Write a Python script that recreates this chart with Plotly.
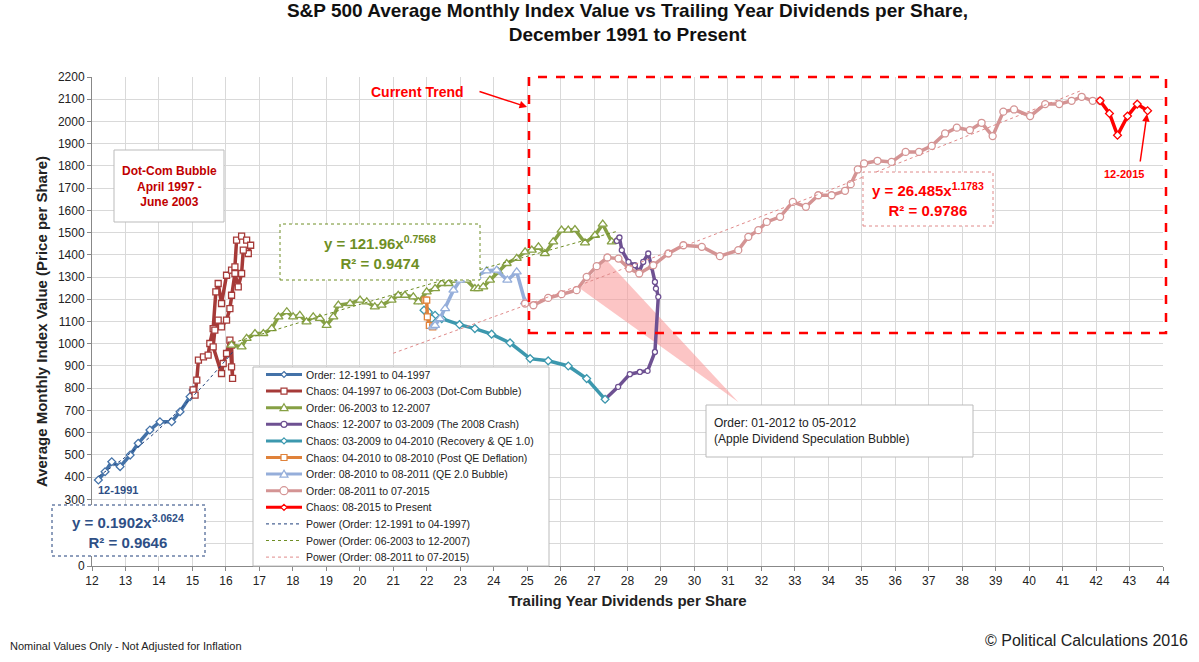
import plotly.graph_objects as go

# ---- data ----
blue_x = [12.19, 12.39, 12.59, 12.84, 13.14, 13.38, 13.73, 14.03, 14.38, 14.63, 14.93, 15.02]
blue_y = [387, 424, 469, 447, 499, 552, 612, 649, 649, 694, 762, 792]

red_x = [15.02, 15.08, 15.13, 15.18, 15.33, 15.47, 15.52, 15.62, 15.70, 15.77, 15.87, 16.02, 16.17, 16.27, 16.32, 16.47,
         16.62, 16.74, 16.67, 16.52, 16.47, 16.37, 16.27, 16.17, 16.12, 16.02, 15.87, 15.77, 15.67, 15.62, 15.87, 15.92,
         16.02, 16.12, 16.17, 16.20, 16.17]
red_y = [792, 769, 836, 926, 941, 949, 1001, 1068, 1233, 1271, 1181, 1308, 1331, 1346, 1466, 1484,
         1466, 1443, 1406, 1421, 1316, 1256, 1316, 1218, 1158, 1106, 1076, 1106, 1061, 986, 866, 911,
         956, 1016, 896, 844, 994]

green_x = [16.17, 16.47, 16.62, 16.87, 17.12, 17.37, 17.57, 17.82, 18.01, 18.21, 18.41, 18.61, 18.81, 19.01, 19.21, 19.36,
           19.71, 20.01, 20.21, 20.45, 20.65, 20.95, 21.15, 21.35, 21.6, 21.75, 22.0, 22.25, 22.45, 22.65, 22.85, 23.0,
           23.19, 23.44, 23.54, 23.69, 23.89, 24.14, 24.39, 24.69, 24.94, 25.14, 25.34, 25.53, 25.78, 26.03, 26.23, 26.43,
           26.73, 27.03, 27.26, 27.53, 27.68]
green_y = [994, 986, 1024, 1046, 1046, 1068, 1121, 1144, 1121, 1128, 1098, 1121, 1114, 1083, 1121, 1174,
           1181, 1196, 1188, 1166, 1174, 1196, 1218, 1218, 1211, 1188, 1233, 1248, 1271, 1271, 1286, 1293,
           1286, 1248, 1248, 1256, 1286, 1323, 1361, 1384, 1413, 1421, 1436, 1406, 1458, 1511, 1511, 1514,
           1454, 1488, 1538, 1458, 1463]

purple_x = [27.68, 27.76, 27.83, 28.03, 28.22, 28.35, 28.47, 28.62, 28.72, 28.82, 28.85, 28.92, 28.82, 28.6, 28.37, 28.07, 27.72, 27.33]
purple_y = [1463, 1478, 1421, 1368, 1353, 1323, 1368, 1406, 1346, 1278, 1248, 1211, 963, 878, 873, 863, 806, 750]

teal_x = [27.33, 26.78, 26.23, 25.63, 25.09, 24.49, 23.94, 23.44, 22.98, 22.45, 22.25, 22.15, 22.05, 21.92]
teal_y = [750, 843, 900, 923, 933, 1004, 1043, 1068, 1086, 1113, 1128, 1113, 1143, 1151]

orange_x = [21.95, 22.0, 22.02, 22.08, 22.18]
orange_y = [1196, 1196, 1121, 1083, 1076]

lblue_x = [22.18, 22.25, 22.4, 22.55, 22.8, 23.0, 23.24, 23.49, 23.79, 24.09, 24.41, 24.69, 24.94]
lblue_y = [1076, 1083, 1113, 1158, 1241, 1286, 1319, 1304, 1328, 1331, 1286, 1323, 1188]

pink_x = [24.94, 25.19, 25.63, 26.03, 26.48, 26.78, 27.08, 27.4, 27.73, 28.05, 28.35, 28.77, 29.22, 29.67, 30.22, 30.76,
          31.31, 31.61, 31.91, 32.16, 32.56, 32.94, 33.33, 33.7, 34.1, 34.5, 34.67, 34.88, 35.07, 35.47, 35.89, 36.31,
          36.71, 37.09, 37.49, 37.84, 38.23, 38.58, 38.91, 39.23, 39.55, 40.03, 40.48, 40.9, 41.27, 41.57, 41.9, 42.12]
pink_y = [1181, 1173, 1206, 1223, 1241, 1301, 1349, 1388, 1383, 1338, 1316, 1353, 1406, 1443, 1436, 1394,
          1421, 1481, 1511, 1548, 1571, 1638, 1616, 1668, 1668, 1688, 1718, 1784, 1811, 1823, 1818, 1863,
          1863, 1890, 1946, 1972, 1961, 1994, 1934, 2044, 2054, 2024, 2078, 2078, 2093, 2111, 2093, 2093]

now_x = [42.12, 42.4, 42.64, 42.94, 43.23, 43.54]
now_y = [2093, 2036, 1938, 2024, 2078, 2048]

tri_x = [26.58, 27.33, 31.31, 26.58]
tri_y = [1248, 1383, 738, 1248]

fit_blue = (0.1902, 3.0624, 12.2, 16.2)
fit_green = (121.96, 0.7568, 16.2, 27.7)
fit_pink = (26.485, 1.1783, 21.0, 41.6)

series_names = ["Order: 12-1991 to 04-1997", "Chaos: 04-1997 to 06-2003 (Dot-Com Bubble)", "Order: 06-2003 to 12-2007",
                "Chaos: 12-2007 to 03-2009 (The 2008 Crash)", "Chaos: 03-2009 to 04-2010 (Recovery & QE 1.0)",
                "Chaos: 04-2010 to 08-2010 (Post QE Deflation)", "Order: 08-2010 to 08-2011 (QE 2.0 Bubble)",
                "Order: 08-2011 to 07-2015", "Chaos: 08-2015 to Present"]
fit_names = ["Power (Order: 12-1991 to 04-1997)", "Power (Order: 06-2003 to 12-2007)", "Power (Order: 08-2011 to 07-2015)"]

def fit_line(a, b, x0, x1, n=40):
    xs = [x0 + (x1 - x0) * i / (n - 1) for i in range(n)]
    return xs, [a * x ** b for x in xs]

fig = go.Figure()
fig.add_trace(go.Scatter(x=tri_x, y=tri_y, fill="toself", fillcolor="rgba(250,150,150,0.55)",
                         line=dict(width=0), mode="lines", showlegend=False, hoverinfo="skip"))

styles = [("#4472A8", "diamond", 6), ("#A63A38", "square", 6), ("#86A044", "triangle-up", 8),
          ("#6E5192", "circle", 5), ("#3C98AE", "diamond", 6), ("#E0823A", "square", 6),
          ("#95AEDA", "triangle-up", 8), ("#D49494", "circle", 7), ("#FF0000", "diamond", 6)]
data = [(blue_x, blue_y), (red_x, red_y), (green_x, green_y), (purple_x, purple_y), (teal_x, teal_y),
        (orange_x, orange_y), (lblue_x, lblue_y), (pink_x, pink_y), (now_x, now_y)]
for (x, y), name, (color, sym, size) in zip(data, series_names, styles):
    fig.add_trace(go.Scatter(x=x, y=y, name=name, mode="lines+markers", showlegend=False,
                             line=dict(color=color, width=3.5),
                             marker=dict(symbol=sym, size=size, color="white", line=dict(color=color, width=1.3))))

fit_colors = ["#1F3F7A", "#6E8E24", "#E08A8A"]
for fit, name, color in zip([fit_blue, fit_green, fit_pink], fit_names, fit_colors):
    fx, fy = fit_line(*fit)
    fig.add_trace(go.Scatter(x=fx, y=fy, name=name, mode="lines", showlegend=False,
                             line=dict(color=color, width=1, dash="dot")))

L, T, W, H = 92, 77, 1071, 489
def px(p): return (p - L) / W
def py(p): return (T + H - p) / H

shapes = [
    dict(type="rect", xref="paper", yref="paper", x0=px(529), x1=px(1166), y0=py(333), y1=py(77),
         line=dict(color="#FF0000", width=2.5, dash="dash")),
    dict(type="rect", xref="paper", yref="paper", x0=px(52), x1=px(205), y0=py(556), y1=py(505),
         line=dict(color="#1F3F7A", width=1, dash="dot"), fillcolor="white"),
    dict(type="rect", xref="paper", yref="paper", x0=px(280), x1=px(480), y0=py(280), y1=py(224),
         line=dict(color="#6E8E24", width=1, dash="dot"), fillcolor="white"),
    dict(type="rect", xref="paper", yref="paper", x0=px(863), x1=px(993), y0=py(226), y1=py(172),
         line=dict(color="#E08A8A", width=1, dash="dot"), fillcolor="white"),
    dict(type="rect", xref="paper", yref="paper", x0=px(114), x1=px(224), y0=py(222), y1=py(150),
         line=dict(color="#BBBBBB", width=1), fillcolor="white"),
    dict(type="rect", xref="paper", yref="paper", x0=px(706), x1=px(973), y0=py(457), y1=py(405),
         line=dict(color="#BBBBBB", width=1), fillcolor="white"),
    dict(type="rect", xref="paper", yref="paper", x0=px(253), x1=px(549), y0=py(566), y1=py(367),
         line=dict(color="#BBBBBB", width=1), fillcolor="white", layer="above"),
]

F = "Liberation Sans"
ann = []
def P(x, y): return f"{px(x)},{py(y)}"
for i in range(12):
    yc = 374.5 + i * 16.6
    if i < 9:
        color, sym, size = styles[i]
        shapes.append(dict(type="line", xref="paper", yref="paper", x0=px(266), x1=px(302), y0=py(yc), y1=py(yc),
                           line=dict(color=color, width=3), layer="above"))
        c, r = 284, 3
        mk = dict(type="path", xref="paper", yref="paper", fillcolor="white", line=dict(color=color, width=1.2), layer="above")
        if sym == "diamond":
            mk["path"] = f"M{P(c, yc - r)} L{P(c + r, yc)} L{P(c, yc + r)} L{P(c - r, yc)} Z"
        elif sym == "square":
            mk["path"] = f"M{P(c - r, yc - r)} L{P(c + r, yc - r)} L{P(c + r, yc + r)} L{P(c - r, yc + r)} Z"
        elif sym == "triangle-up":
            mk["path"] = f"M{P(c, yc - 4)} L{P(c + 4, yc + 3)} L{P(c - 4, yc + 3)} Z"
        else:
            rr = r + (1 if size > 6 else 0)
            mk = dict(type="circle", xref="paper", yref="paper", x0=px(c - rr), x1=px(c + rr), y0=py(yc + rr), y1=py(yc - rr),
                      fillcolor="white", line=dict(color=color, width=1.2), layer="above")
        shapes.append(mk)
        label = series_names[i]
    else:
        shapes.append(dict(type="line", xref="paper", yref="paper", x0=px(266), x1=px(302), y0=py(yc), y1=py(yc),
                           line=dict(color=fit_colors[i - 9], width=1, dash="dot"), layer="above"))
        label = fit_names[i - 9]
    ann.append(dict(x=px(304), y=py(yc), xanchor="left", text=label, font=dict(size=10.5, color="#222")))

ann += [
    dict(x=px(128), y=py(531), text="<b>y = 0.1902x<sup>3.0624</sup><br>R² = 0.9646</b>", font=dict(size=15, color="#2E4F86")),
    dict(x=px(380), y=py(252), text="<b>y = 121.96x<sup>0.7568</sup><br>R² = 0.9474</b>", font=dict(size=15, color="#6E8E24")),
    dict(x=px(928), y=py(199), text="<b>y = 26.485x<sup>1.1783</sup><br>R² = 0.9786</b>", font=dict(size=15, color="#FF0000")),
    dict(x=px(169), y=py(186), text="<b>Dot-Com Bubble<br>April 1997 -<br>June 2003</b>", font=dict(size=12, color="#C00000")),
    dict(x=px(712), y=py(431), xanchor="left", align="left",
         text="Order: 01-2012 to 05-2012<br>(Apple Dividend Speculation Bubble)", font=dict(size=12, color="#222")),
    dict(x=px(118), y=py(490), text="<b>12-1991</b>", font=dict(size=11, color="#2E4F86")),
    dict(x=px(418), y=py(92), text="<b>Current Trend</b>", font=dict(size=14, color="#FF0000")),
    dict(x=px(527), y=py(107), ax=-49, ay=-16, text="", showarrow=True,
         arrowcolor="#FF0000", arrowwidth=1.5, arrowhead=2),
    dict(x=px(1124), y=py(174), text="<b>12-2015</b>", font=dict(size=11, color="#FF0000")),
    dict(x=px(1147), y=py(114), ax=-7, ay=49, text="", showarrow=True,
         arrowcolor="#FF0000", arrowwidth=1.5, arrowhead=2),
    dict(x=px(8), y=py(646), xanchor="left", text="Nominal Values Only - Not Adjusted for Inflation",
         font=dict(size=11, color="#222")),
    dict(x=px(1190), y=py(640), xanchor="right", text="© Political Calculations 2016", font=dict(size=16, color="#222")),
]
for a in ann:
    a.setdefault("xref", "paper"); a.setdefault("yref", "paper"); a.setdefault("showarrow", False)
    a.setdefault("xanchor", "center"); a.setdefault("yanchor", "middle")

fig.update_layout(
    width=1199, height=662, paper_bgcolor="white", plot_bgcolor="white", showlegend=False,
    margin=dict(l=L, r=1199 - L - W, t=T, b=662 - T - H),
    font=dict(family=F, size=12, color="#222"),
    title=dict(text="<b>S&P 500 Average Monthly Index Value vs Trailing Year Dividends per Share,<br>December 1991 to Present</b>",
               x=0.5, xref="paper", xanchor="center", y=0.975, yanchor="top", font=dict(size=19, color="#111")),
    xaxis=dict(range=[12, 44], dtick=1, tick0=12, showgrid=True, gridcolor="#D9D9D9", showline=True,
               linecolor="#888", ticks="outside", ticklen=4, tickcolor="#888", zeroline=False,
               title=dict(text="<b>Trailing Year Dividends per Share</b>", font=dict(size=15), standoff=8)),
    yaxis=dict(range=[0, 2200], dtick=100, showgrid=True, gridcolor="#D9D9D9", showline=True,
               linecolor="#888", ticks="outside", ticklen=4, tickcolor="#888", zeroline=False,
               title=dict(text="<b>Average Monthly Index Value (Price per Share)</b>", font=dict(size=15), standoff=6)),
    shapes=shapes, annotations=ann,
)

fig.write_html("out.html", post_script="document.body.style.margin='0px';", config={"displayModeBar": False})
